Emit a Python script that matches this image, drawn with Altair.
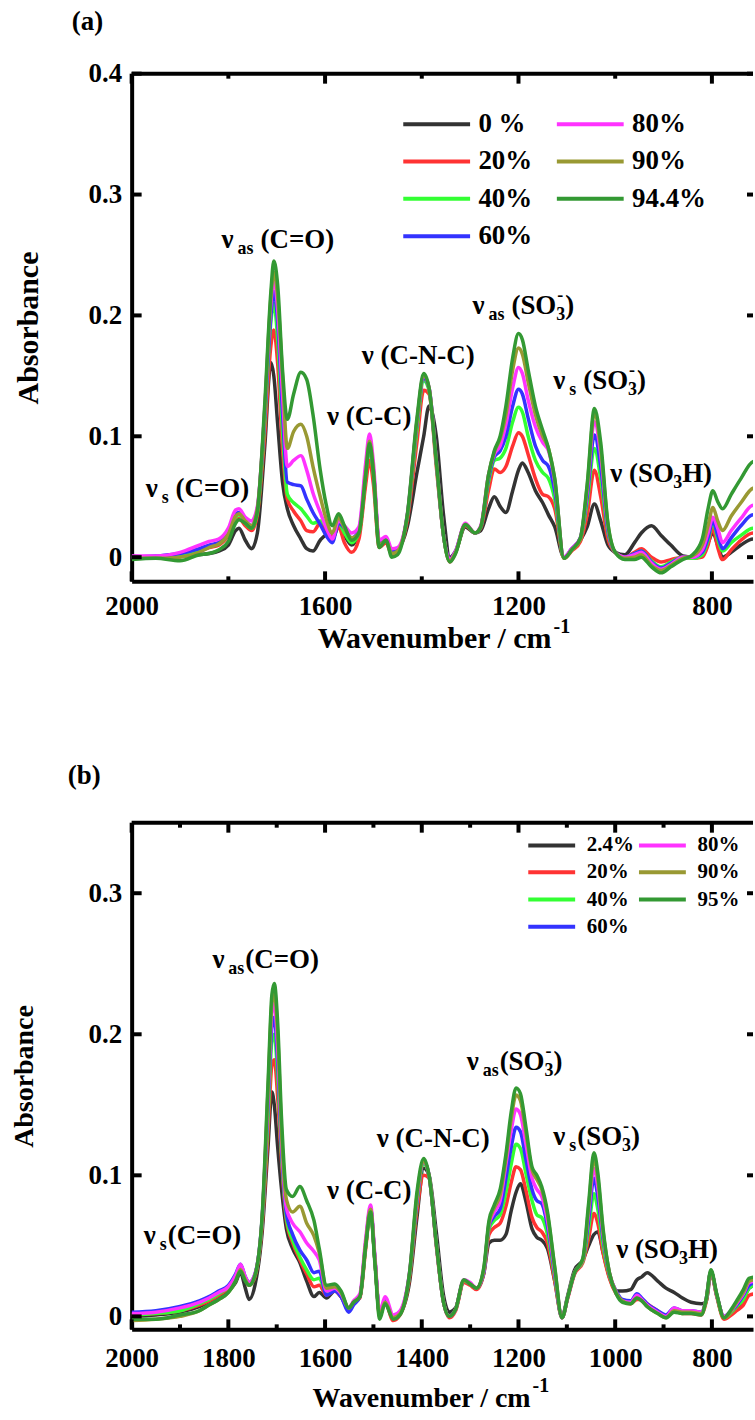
import altair as alt
import pandas as pd

FONT = "Liberation Serif"
COLORS = ["#333333", "#ff3333", "#33ff33", "#3333ff", "#ff33ff", "#999933", "#339933"]
W = 623

# ---------------- panel (a) ----------------
wn_a = [2000, 1950, 1900, 1860, 1840, 1820, 1800, 1785, 1778, 1765,
        1752, 1740, 1725, 1712, 1706, 1698, 1688, 1678, 1665, 1650,
        1638, 1625, 1610, 1598, 1585, 1572, 1560, 1545, 1530, 1516,
        1508, 1500, 1488, 1474, 1462, 1450, 1430, 1410, 1396, 1385,
        1370, 1355, 1342, 1330, 1310, 1290, 1278, 1262, 1250, 1238,
        1226, 1212, 1200, 1192, 1180, 1165, 1150, 1138, 1125, 1106,
        1090, 1072, 1058, 1043, 1030, 1015, 1000, 980, 960, 946,
        925, 905, 885, 860, 840, 820, 808, 798, 788, 778,
        760, 740, 715, 700]
a_k = [0.001, 0.000, 0.001, 0.002, 0.003, 0.005, 0.010, 0.022, 0.024, 0.014,
       0.007, 0.020, 0.090, 0.161, 0.150, 0.110, 0.062, 0.040, 0.026, 0.015,
       0.007, 0.005, 0.014, 0.018, 0.015, 0.025, 0.018, 0.010, 0.020, 0.065,
       0.092, 0.070, 0.012, 0.014, 0.004, 0.006, 0.025, 0.070, 0.100, 0.125,
       0.100, 0.035, 0.000, 0.005, 0.025, 0.020, 0.022, 0.040, 0.050, 0.042,
       0.037, 0.055, 0.072, 0.078, 0.070, 0.055, 0.045, 0.035, 0.025, 0.000,
       0.006, 0.014, 0.025, 0.044, 0.030, 0.010, 0.004, 0.002, 0.012, 0.020,
       0.026, 0.018, 0.010, 0.001, 0.000, 0.002, 0.012, 0.020, 0.010, 0.000,
       0.004, 0.010, 0.015, 0.012]
a_20 = [0.000, 0.000, 0.002, 0.005, 0.008, 0.010, 0.018, 0.030, 0.032, 0.026,
        0.022, 0.035, 0.100, 0.175, 0.188, 0.160, 0.090, 0.048, 0.038, 0.030,
        0.022, 0.021, 0.028, 0.022, 0.018, 0.025, 0.012, 0.004, 0.015, 0.060,
        0.080, 0.060, 0.008, 0.012, 0.002, 0.005, 0.030, 0.095, 0.138, 0.135,
        0.075, 0.018, -0.004, 0.004, 0.026, 0.020, 0.024, 0.055, 0.073, 0.070,
        0.075, 0.092, 0.103, 0.100, 0.085, 0.065, 0.052, 0.050, 0.040, -0.001,
        0.005, 0.013, 0.035, 0.072, 0.050, 0.015, 0.004, 0.000, 0.004, 0.007,
        0.000, -0.004, -0.002, 0.000, -0.001, 0.000, 0.010, 0.024, 0.008, -0.002,
        0.006, 0.014, 0.020, 0.018]
a_40 = [0.000, 0.000, 0.002, 0.006, 0.009, 0.011, 0.020, 0.033, 0.035, 0.028,
        0.024, 0.037, 0.110, 0.195, 0.210, 0.180, 0.105, 0.052, 0.045, 0.040,
        0.034, 0.028, 0.030, 0.026, 0.020, 0.028, 0.020, 0.012, 0.020, 0.068,
        0.092, 0.068, 0.010, 0.014, 0.004, 0.006, 0.033, 0.105, 0.146, 0.138,
        0.078, 0.018, -0.003, 0.004, 0.027, 0.020, 0.025, 0.062, 0.080, 0.082,
        0.090, 0.112, 0.124, 0.120, 0.100, 0.080, 0.070, 0.065, 0.048, -0.001,
        0.006, 0.015, 0.045, 0.090, 0.065, 0.020, 0.004, 0.000, 0.003, 0.005,
        -0.003, -0.008, -0.004, 0.000, -0.001, 0.002, 0.014, 0.029, 0.015, 0.005,
        0.012, 0.018, 0.024, 0.022]
a_60 = [0.000, 0.001, 0.003, 0.007, 0.010, 0.012, 0.022, 0.036, 0.037, 0.030,
        0.026, 0.040, 0.115, 0.200, 0.220, 0.195, 0.120, 0.062, 0.060, 0.059,
        0.048, 0.037, 0.027, 0.018, 0.012, 0.028, 0.024, 0.016, 0.022, 0.072,
        0.096, 0.072, 0.012, 0.015, 0.005, 0.006, 0.034, 0.110, 0.148, 0.140,
        0.080, 0.018, -0.002, 0.005, 0.027, 0.020, 0.025, 0.065, 0.083, 0.088,
        0.100, 0.125, 0.139, 0.135, 0.115, 0.092, 0.080, 0.075, 0.055, 0.000,
        0.007, 0.016, 0.050, 0.101, 0.075, 0.022, 0.004, 0.000, 0.003, 0.005,
        -0.004, -0.009, -0.005, 0.000, 0.000, 0.004, 0.016, 0.030, 0.018, 0.007,
        0.016, 0.026, 0.035, 0.034]
a_80 = [0.001, 0.001, 0.004, 0.010, 0.013, 0.015, 0.024, 0.039, 0.040, 0.033,
        0.030, 0.042, 0.120, 0.210, 0.230, 0.205, 0.135, 0.075, 0.080, 0.084,
        0.072, 0.053, 0.037, 0.025, 0.015, 0.030, 0.026, 0.020, 0.025, 0.078,
        0.102, 0.078, 0.014, 0.017, 0.007, 0.008, 0.035, 0.112, 0.150, 0.140,
        0.080, 0.018, -0.002, 0.005, 0.028, 0.020, 0.026, 0.068, 0.085, 0.092,
        0.110, 0.140, 0.157, 0.152, 0.130, 0.108, 0.095, 0.088, 0.062, 0.000,
        0.007, 0.016, 0.055, 0.112, 0.085, 0.025, 0.004, 0.000, 0.002, 0.004,
        -0.005, -0.010, -0.006, 0.000, 0.000, 0.006, 0.020, 0.033, 0.024, 0.012,
        0.022, 0.032, 0.043, 0.042]
a_90 = [-0.001, -0.001, 0.000, 0.004, 0.008, 0.011, 0.019, 0.034, 0.036, 0.030,
        0.026, 0.040, 0.120, 0.215, 0.236, 0.215, 0.150, 0.090, 0.104, 0.110,
        0.100, 0.075, 0.050, 0.032, 0.020, 0.033, 0.024, 0.016, 0.020, 0.070,
        0.096, 0.072, 0.010, 0.014, 0.003, 0.005, 0.034, 0.112, 0.150, 0.140,
        0.080, 0.018, -0.003, 0.004, 0.027, 0.020, 0.025, 0.068, 0.087, 0.098,
        0.118, 0.155, 0.173, 0.168, 0.145, 0.118, 0.100, 0.090, 0.064, -0.001,
        0.006, 0.015, 0.058, 0.119, 0.090, 0.027, 0.004, -0.001, 0.000, 0.002,
        -0.007, -0.011, -0.007, -0.001, 0.001, 0.010, 0.026, 0.041, 0.030, 0.022,
        0.034, 0.045, 0.057, 0.058]
a_944 = [-0.002, -0.001, -0.003, 0.002, 0.003, 0.006, 0.013, 0.028, 0.031, 0.028,
         0.024, 0.038, 0.125, 0.220, 0.245, 0.225, 0.155, 0.114, 0.135, 0.153,
         0.147, 0.118, 0.072, 0.044, 0.026, 0.036, 0.026, 0.014, 0.020, 0.068,
         0.094, 0.070, 0.008, 0.014, 0.000, 0.002, 0.035, 0.115, 0.152, 0.140,
         0.080, 0.018, -0.004, 0.003, 0.027, 0.020, 0.025, 0.068, 0.088, 0.100,
         0.125, 0.165, 0.185, 0.180, 0.155, 0.125, 0.105, 0.090, 0.065, -0.001,
         0.006, 0.016, 0.060, 0.123, 0.095, 0.028, 0.004, -0.002, -0.002, 0.000,
         -0.008, -0.013, -0.008, -0.002, 0.002, 0.015, 0.040, 0.055, 0.046, 0.040,
         0.052, 0.065, 0.079, 0.080]
names_a = ["0 %", "20%", "40%", "60%", "80%", "90%", "94.4%"]

# ---------------- panel (b) ----------------
wn_b = [2000, 1950, 1900, 1860, 1840, 1820, 1800, 1785, 1775, 1765,
        1757, 1745, 1730, 1718, 1710, 1705, 1698, 1690, 1680, 1667,
        1652, 1638, 1623, 1612, 1597, 1580, 1567, 1551, 1541, 1528,
        1516, 1506, 1497, 1487, 1476, 1459, 1445, 1425, 1410, 1396,
        1385, 1370, 1355, 1343, 1330, 1313, 1300, 1287, 1272, 1261,
        1250, 1238, 1226, 1215, 1205, 1196, 1185, 1172, 1162, 1152,
        1140, 1125, 1110, 1098, 1084, 1067, 1055, 1044, 1036, 1025,
        1012, 998, 985, 968, 955, 945, 934, 912, 895, 878,
        861, 843, 822, 812, 802, 790, 775, 760, 749, 735,
        723, 712]
b_24 = [0.000, 0.001, 0.003, 0.007, 0.010, 0.014, 0.018, 0.024, 0.031, 0.020,
        0.012, 0.022, 0.060, 0.120, 0.159, 0.150, 0.120, 0.090, 0.062, 0.048,
        0.038, 0.025, 0.014, 0.017, 0.013, 0.018, 0.014, 0.006, 0.010, 0.014,
        0.050, 0.076, 0.040, 0.002, 0.010, -0.001, 0.002, 0.025, 0.070, 0.105,
        0.100, 0.060, 0.015, 0.003, 0.006, 0.025, 0.023, 0.020, 0.030, 0.052,
        0.054, 0.054, 0.058, 0.075, 0.088, 0.094, 0.082, 0.062, 0.056, 0.054,
        0.048, 0.025, 0.000, 0.015, 0.033, 0.040, 0.050, 0.058, 0.060, 0.045,
        0.028, 0.018, 0.018, 0.019, 0.026, 0.028, 0.031, 0.025, 0.020, 0.017,
        0.013, 0.010, 0.009, 0.010, 0.031, 0.015, -0.001, 0.002, 0.006, 0.012,
        0.020, 0.022]
b_20 = [0.001, 0.002, 0.004, 0.008, 0.011, 0.015, 0.020, 0.027, 0.034, 0.026,
        0.022, 0.028, 0.065, 0.130, 0.178, 0.182, 0.155, 0.110, 0.068, 0.052,
        0.040, 0.030, 0.021, 0.022, 0.015, 0.018, 0.014, 0.005, 0.010, 0.013,
        0.048, 0.075, 0.040, 0.001, 0.010, -0.003, 0.001, 0.028, 0.075, 0.100,
        0.098, 0.050, 0.010, -0.001, 0.004, 0.024, 0.022, 0.019, 0.030, 0.058,
        0.063, 0.066, 0.078, 0.095, 0.106, 0.104, 0.090, 0.070, 0.063, 0.060,
        0.052, 0.025, -0.001, 0.013, 0.030, 0.038, 0.055, 0.073, 0.066, 0.045,
        0.027, 0.016, 0.011, 0.009, 0.012, 0.012, 0.009, 0.004, 0.000, 0.004,
        0.002, 0.002, 0.001, 0.010, 0.031, 0.014, -0.002, 0.001, 0.004, 0.008,
        0.015, 0.016]
b_40 = [0.001, 0.002, 0.004, 0.009, 0.012, 0.016, 0.021, 0.028, 0.035, 0.027,
        0.023, 0.029, 0.068, 0.140, 0.195, 0.200, 0.170, 0.115, 0.070, 0.054,
        0.042, 0.033, 0.026, 0.027, 0.016, 0.019, 0.015, 0.005, 0.010, 0.014,
        0.050, 0.076, 0.040, 0.002, 0.011, -0.001, 0.002, 0.030, 0.080, 0.108,
        0.100, 0.052, 0.010, 0.000, 0.005, 0.025, 0.023, 0.020, 0.031, 0.062,
        0.068, 0.072, 0.088, 0.108, 0.122, 0.119, 0.102, 0.082, 0.072, 0.070,
        0.058, 0.028, -0.001, 0.014, 0.031, 0.039, 0.062, 0.087, 0.076, 0.050,
        0.029, 0.017, 0.011, 0.010, 0.014, 0.012, 0.008, 0.003, 0.000, 0.004,
        0.002, 0.003, 0.002, 0.011, 0.032, 0.015, -0.001, 0.003, 0.007, 0.012,
        0.020, 0.022]
b_60 = [0.003, 0.004, 0.007, 0.011, 0.014, 0.018, 0.022, 0.030, 0.037, 0.028,
        0.024, 0.030, 0.070, 0.150, 0.205, 0.212, 0.180, 0.120, 0.073, 0.058,
        0.047, 0.040, 0.031, 0.032, 0.015, 0.018, 0.014, 0.003, 0.008, 0.014,
        0.052, 0.077, 0.041, 0.002, 0.011, 0.000, 0.003, 0.031, 0.082, 0.110,
        0.100, 0.052, 0.010, 0.000, 0.005, 0.025, 0.023, 0.020, 0.031, 0.064,
        0.071, 0.076, 0.098, 0.120, 0.134, 0.131, 0.112, 0.090, 0.082, 0.080,
        0.064, 0.030, -0.001, 0.014, 0.031, 0.040, 0.068, 0.098, 0.085, 0.055,
        0.030, 0.018, 0.012, 0.011, 0.016, 0.013, 0.009, 0.004, 0.001, 0.006,
        0.004, 0.004, 0.003, 0.012, 0.032, 0.015, 0.000, 0.004, 0.008, 0.015,
        0.022, 0.024]
b_80 = [0.002, 0.003, 0.006, 0.010, 0.013, 0.017, 0.021, 0.029, 0.037, 0.028,
        0.024, 0.030, 0.070, 0.155, 0.215, 0.222, 0.190, 0.125, 0.077, 0.066,
        0.060, 0.052, 0.046, 0.040, 0.018, 0.020, 0.016, 0.006, 0.011, 0.016,
        0.055, 0.079, 0.043, 0.003, 0.014, 0.001, 0.004, 0.032, 0.084, 0.110,
        0.100, 0.052, 0.010, 0.000, 0.005, 0.026, 0.024, 0.020, 0.032, 0.065,
        0.074, 0.082, 0.108, 0.132, 0.147, 0.143, 0.123, 0.098, 0.090, 0.085,
        0.068, 0.032, -0.001, 0.014, 0.031, 0.040, 0.074, 0.105, 0.092, 0.058,
        0.031, 0.017, 0.011, 0.010, 0.015, 0.012, 0.008, 0.003, 0.000, 0.006,
        0.004, 0.004, 0.003, 0.012, 0.032, 0.015, 0.000, 0.004, 0.009, 0.016,
        0.024, 0.025]
b_90 = [-0.003, -0.002, 0.000, 0.004, 0.008, 0.012, 0.017, 0.025, 0.033, 0.026,
        0.022, 0.029, 0.070, 0.160, 0.222, 0.230, 0.200, 0.130, 0.083, 0.074,
        0.078, 0.066, 0.057, 0.045, 0.020, 0.021, 0.017, 0.006, 0.010, 0.014,
        0.052, 0.076, 0.040, 0.000, 0.010, -0.001, 0.002, 0.031, 0.085, 0.110,
        0.100, 0.052, 0.010, 0.000, 0.005, 0.025, 0.023, 0.020, 0.033, 0.066,
        0.077, 0.086, 0.112, 0.140, 0.157, 0.153, 0.131, 0.104, 0.097, 0.090,
        0.072, 0.034, -0.001, 0.014, 0.031, 0.040, 0.077, 0.112, 0.098, 0.060,
        0.031, 0.017, 0.011, 0.009, 0.013, 0.011, 0.007, 0.002, -0.001, 0.004,
        0.003, 0.003, 0.002, 0.012, 0.032, 0.015, -0.001, 0.004, 0.010, 0.017,
        0.025, 0.026]
b_95 = [-0.002, -0.002, 0.001, 0.004, 0.008, 0.012, 0.017, 0.025, 0.032, 0.025,
        0.022, 0.029, 0.072, 0.165, 0.228, 0.236, 0.208, 0.140, 0.090, 0.085,
        0.092, 0.082, 0.068, 0.048, 0.022, 0.023, 0.018, 0.006, 0.010, 0.014,
        0.050, 0.074, 0.038, -0.002, 0.009, -0.002, 0.001, 0.032, 0.088, 0.112,
        0.100, 0.052, 0.010, 0.000, 0.005, 0.026, 0.023, 0.020, 0.034, 0.068,
        0.079, 0.090, 0.115, 0.145, 0.162, 0.158, 0.135, 0.106, 0.100, 0.092,
        0.074, 0.035, -0.001, 0.014, 0.031, 0.041, 0.080, 0.116, 0.102, 0.062,
        0.031, 0.016, 0.010, 0.009, 0.013, 0.011, 0.007, 0.002, -0.001, 0.003,
        0.002, 0.002, 0.001, 0.012, 0.033, 0.016, -0.001, 0.005, 0.011, 0.019,
        0.027, 0.028]
names_b = ["2.4%", "20%", "40%", "60%", "80%", "90%", "95%"]

# band labels: (wavenumber, absorbance) anchor, then pieces (text, dx, dy, size)
NU, SUB = 27, 18
notes_a = [
    (1971, 0.0495, [("ν", 0, 0, NU), ("s", 16, 6, SUB), ("(C=O)", 30, 0, NU)]),
    (1814, 0.256, [("ν", 0, 0, NU), ("as", 16, 6, SUB), ("(C=O)", 39, 0, NU)]),
    (1596, 0.109, [("ν (C-C)", 0, 0, NU)]),
    (1524, 0.160, [("ν (C-N-C)", 0, 0, NU)]),
    (1295, 0.201, [("ν", 0, 0, NU), ("as", 16, 6, SUB), ("(SO", 39, 0, NU),
                   ("3", 84, 6, SUB), ("-", 85, -13, SUB), (")", 93, 0, NU)]),
    (1128, 0.139, [("ν", 0, 0, NU), ("s", 16, 6, SUB), ("(SO", 30, 0, NU),
                   ("3", 75, 6, SUB), ("-", 76, -13, SUB), (")", 84, 0, NU)]),
    (1010, 0.062, [("ν (SO", 0, 0, NU), ("3", 63, 6, SUB), ("H)", 72, 0, NU)]),
]
notes_b = [
    (1975, 0.0516, [("ν", 0, 0, NU), ("s", 16, 6, SUB), ("(C=O)", 24, 0, NU)]),
    (1833, 0.247, [("ν", 0, 0, NU), ("as", 16, 6, SUB), ("(C=O)", 33, 0, NU)]),
    (1596, 0.0834, [("ν (C-C)", 0, 0, NU)]),
    (1493, 0.120, [("ν (C-N-C)", 0, 0, NU)]),
    (1307, 0.1746, [("ν", 0, 0, NU), ("as", 16, 6, SUB), ("(SO", 33, 0, NU),
                    ("3", 78, 6, SUB), ("-", 79, -13, SUB), (")", 87, 0, NU)]),
    (1128, 0.1216, [("ν", 0, 0, NU), ("s", 16, 6, SUB), ("(SO", 24, 0, NU),
                    ("3", 69, 6, SUB), ("-", 70, -13, SUB), (")", 78, 0, NU)]),
    (998, 0.0417, [("ν (SO", 0, 0, NU), ("3", 63, 6, SUB), ("H)", 72, 0, NU)]),
]

# legend swatch: a line running from -1 to 5 in symbol units, so that a small
# symbol size (and thus a compact row height) still draws a long sample line
SWATCH = "M-1,0H5"


def long_table(wn, series, names):
    rows = []
    for name, vals in zip(names, series):
        for w, v in zip(wn, vals):
            rows.append({"wn": w, "val": v, "sample": name})
    return pd.DataFrame(rows)


def panel(tag, wn, series, names, y_dom, y_ticks, x_major, x_minor, height,
          leg, notes, lay):
    df = long_table(wn, series, names)
    xs = alt.Scale(domain=[2000, 715], nice=False, zero=False)
    ys = alt.Scale(domain=y_dom, nice=False, zero=False)
    X = alt.X("wn:Q", scale=xs, axis=alt.Axis(
        values=x_major, format="d", ticks=False, grid=False,
        domainColor="black", domainWidth=4, labelFont=FONT, labelFontSize=27,
        labelFontWeight="bold", labelColor="black", labelPadding=lay["xpad"],
        labelFlush=False, labelOverlap=False, title=None))
    Y = alt.Y("val:Q", scale=ys, axis=alt.Axis(
        values=y_ticks, labelExpr="datum.value == 0 ? '0' : format(datum.value, '.1f')",
        ticks=False, grid=False, domainColor="black", domainWidth=4,
        labelFont=FONT, labelFontSize=27, labelFontWeight="bold",
        labelColor="black", labelPadding=10, labelOverlap=False,
        title="Absorbance", titleFont=FONT, titleFontSize=lay["ytitle"],
        titleFontWeight="bold", titleColor="black", titlePadding=lay["ytpad"]))

    # legend entries run down the first column, then the second
    r = leg["len"] / 6.0
    color = alt.Color("sample:N", scale=alt.Scale(domain=names, range=COLORS),
        legend=alt.Legend(title=None, orient="none", legendX=leg["x"],
                          legendY=leg["y"], columns=2, symbolType=SWATCH,
                          symbolSize=(2 * r) ** 2, symbolStrokeWidth=4,
                          labelFont=FONT, labelFontSize=leg["fs"],
                          labelFontWeight="bold", labelColor="black",
                          labelOffset=4 * r + leg["off"], rowPadding=leg["row"],
                          columnPadding=leg["col"], padding=0, labelLimit=0))

    layers = []
    for n in names:
        layers.append(
            alt.Chart(df).transform_filter(alt.datum.sample == n)
            .mark_line(strokeWidth=3.5, clip=True, interpolate="monotone")
            .encode(x=X, y=Y, color=color))

    ty = pd.DataFrame({"val": y_ticks})
    tx = pd.DataFrame({"wn": x_major})
    tm = pd.DataFrame({"wn": x_minor})
    rule = dict(color="black", strokeWidth=4)
    layers += [
        alt.Chart(ty).mark_rule(**rule).encode(y=Y, x=alt.value(0), x2=alt.value(10)),
        alt.Chart(ty).mark_rule(**rule).encode(y=Y, x=alt.value(W - 6), x2=alt.value(W)),
        alt.Chart(tx).mark_rule(**rule).encode(x=X, y=alt.value(height - 10), y2=alt.value(height)),
        alt.Chart(tx).mark_rule(**rule).encode(x=X, y=alt.value(0), y2=alt.value(10)),
        alt.Chart(tm).mark_rule(**rule).encode(x=X, y=alt.value(height - 5), y2=alt.value(height)),
        alt.Chart(tm).mark_rule(**rule).encode(x=X, y=alt.value(0), y2=alt.value(5)),
        alt.Chart(pd.DataFrame({"val": [y_dom[1]]})).mark_rule(**rule)
        .encode(y=Y, x=alt.value(0), x2=alt.value(W)),
    ]

    for w, v, parts in notes:
        d = pd.DataFrame({"wn": [w], "val": [v]})
        for t, dx, dy, s in parts:
            layers.append(
                alt.Chart(d).mark_text(text=t, align="left", baseline="alphabetic",
                                       dx=dx, dy=dy, font=FONT, fontSize=s,
                                       fontWeight="bold", color="black")
                .encode(x=X, y=Y))

    one = pd.DataFrame({"k": [0]})
    txt = dict(font=FONT, fontWeight="bold", color="black", baseline="alphabetic")
    layers += [
        alt.Chart(one).mark_text(text=tag, align="left", fontSize=27, **txt)
        .encode(x=alt.value(lay["tagx"]), y=alt.value(lay["tagy"])),
        alt.Chart(one).mark_text(text="Wavenumber / cm", align="right",
                                 fontSize=lay["xtitle"], **txt)
        .encode(x=alt.value(lay["xtx"]), y=alt.value(lay["xty"])),
        alt.Chart(one).mark_text(text="-1", align="left", fontSize=20, **txt)
        .encode(x=alt.value(lay["xtx"] + 2), y=alt.value(lay["xty"] - 15)),
    ]
    return alt.layer(*layers).properties(width=W, height=height)


panel_a = panel(
    "(a)", wn_a, [a_k, a_20, a_40, a_60, a_80, a_90, a_944], names_a,
    [-0.02, 0.4], [0, 0.1, 0.2, 0.3, 0.4], [2000, 1600, 1200, 800],
    [1800, 1400, 1000], 509,
    dict(x=270, y=37, len=67, fs=27, off=6, row=9.5, col=16),
    notes_a,
    dict(xpad=12, ytitle=30, ytpad=45, tagx=-60, tagy=-44, xtitle=30,
         xtx=421, xty=576))

panel_b = panel(
    "(b)", wn_b, [b_24, b_20, b_40, b_60, b_80, b_90, b_95], names_b,
    [-0.0092, 0.35], [0, 0.1, 0.2, 0.3],
    [2000, 1800, 1600, 1400, 1200, 1000, 800],
    [1900, 1700, 1500, 1300, 1100, 900], 508,
    dict(x=395, y=12, len=47, fs=21, off=9, row=5.3, col=-4),
    notes_b,
    dict(xpad=16, ytitle=28, ytpad=50, tagx=-64, tagy=-39, xtitle=28,
         xtx=400, xty=586))

chart = (
    alt.vconcat(panel_a, panel_b, spacing=108)
    .resolve_scale(x="independent", y="independent", color="independent")
    .resolve_legend(color="independent")
    .configure_view(stroke=None)
    .properties(padding={"left": 10, "top": 6, "right": 0, "bottom": 0},
                background="white")
)

chart.save("out.html", embed_options={"renderer": "svg", "actions": False})
